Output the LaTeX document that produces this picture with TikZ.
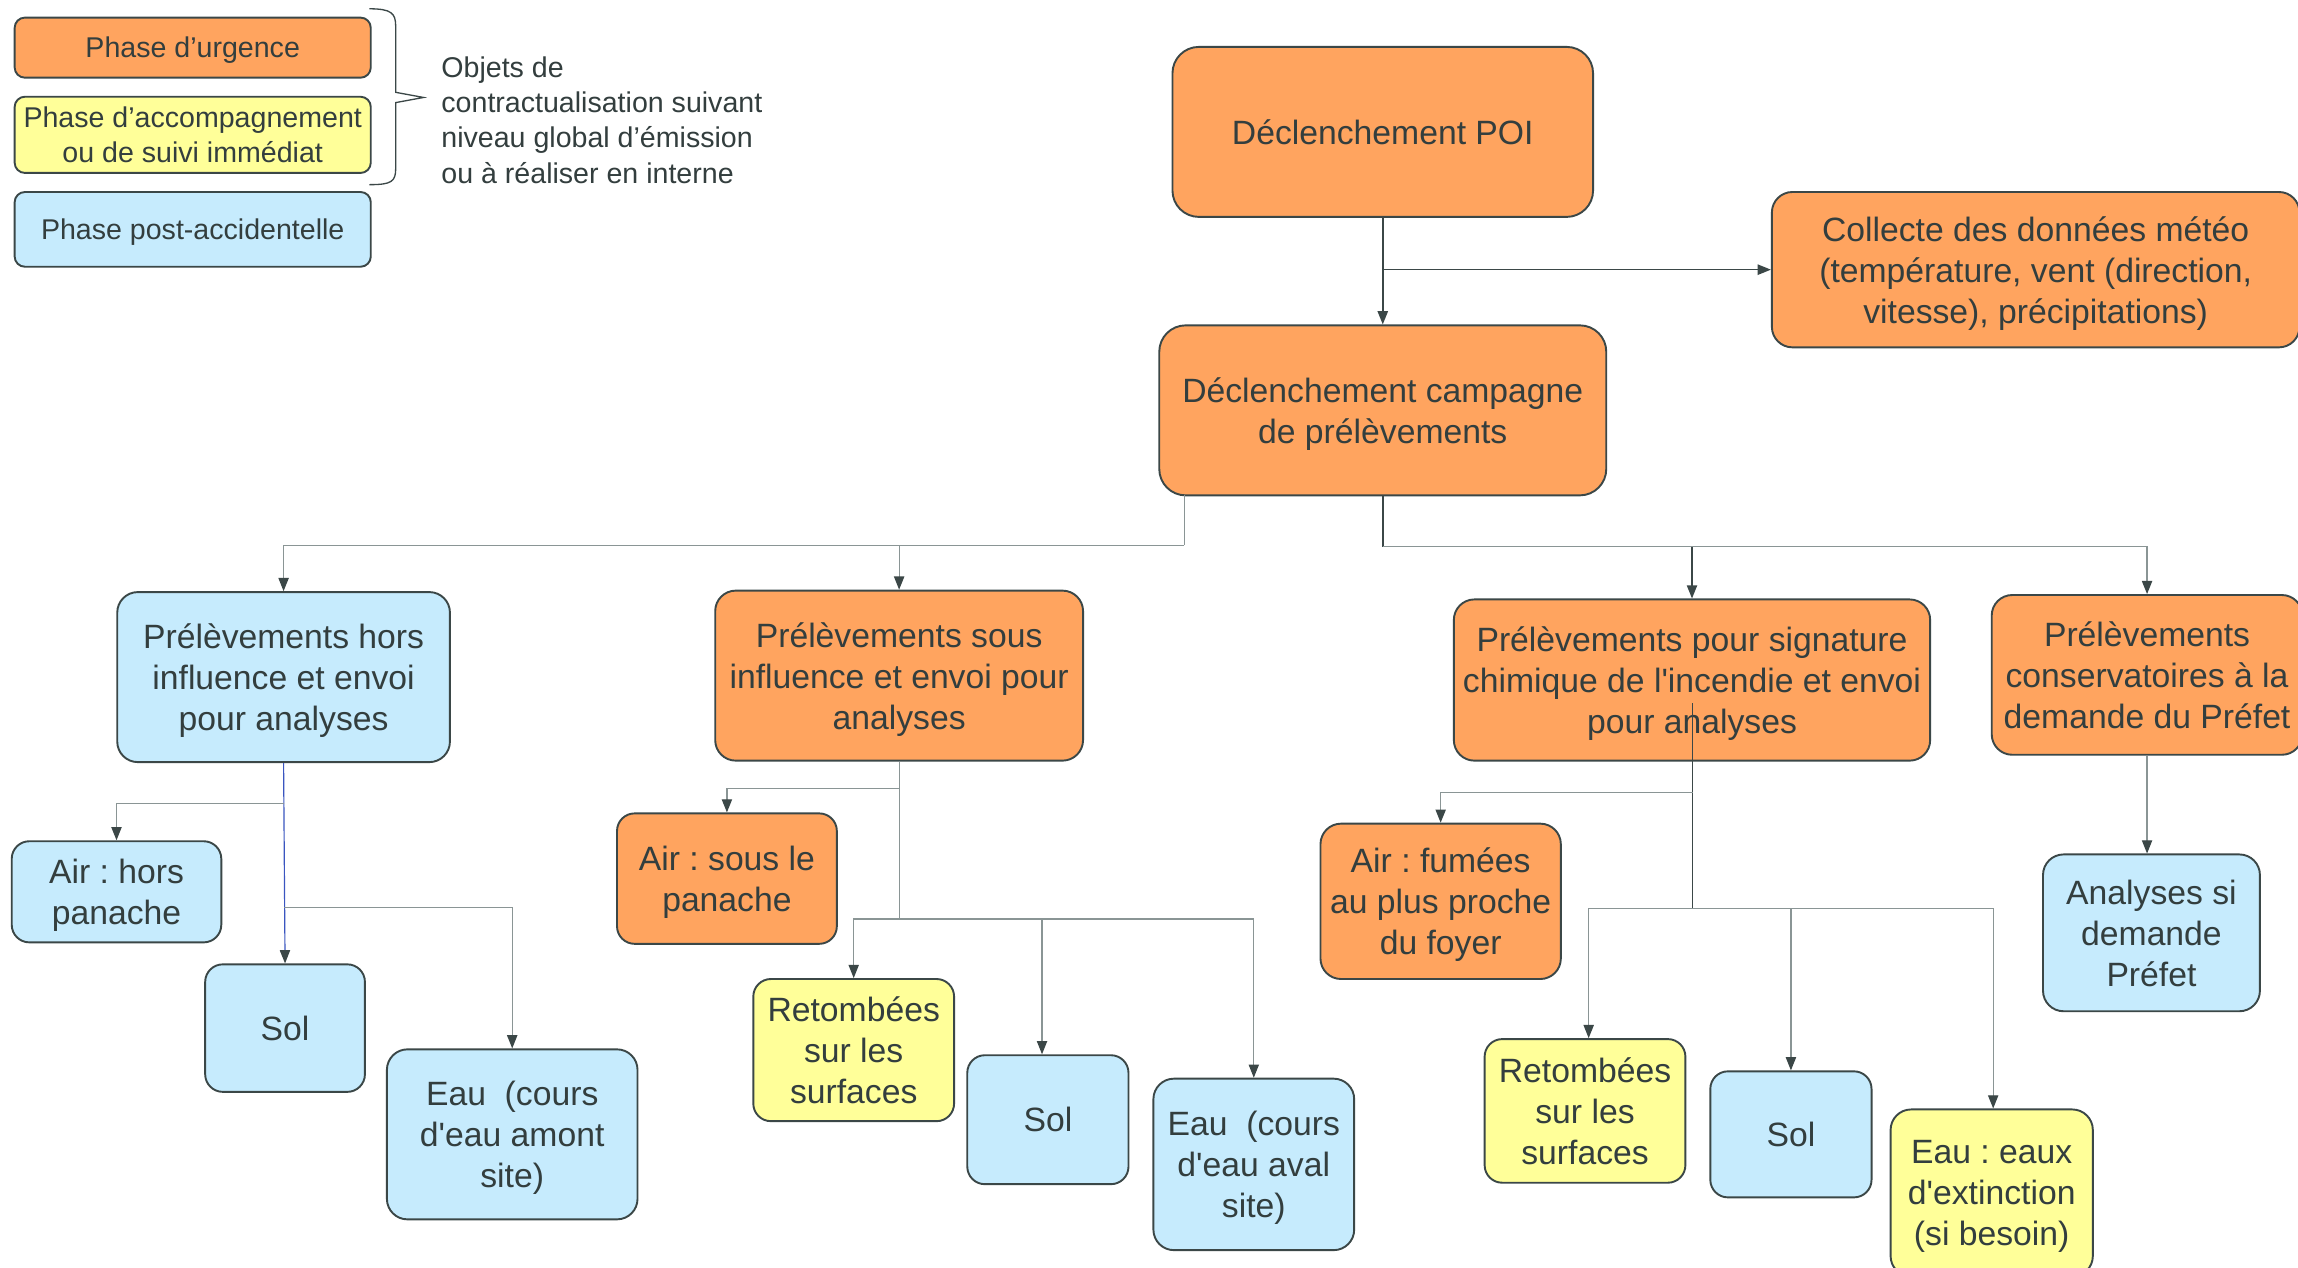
\documentclass[tikz,border=0pt]{standalone}
\usepackage{fontspec}
\setmainfont{Liberation Sans}[Ligatures=TeXOff]
\usetikzlibrary{arrows.meta}
\definecolor{orangebox}{HTML}{FFA45F}
\definecolor{yellowbox}{HTML}{FFFF99}
\definecolor{bluebox}{HTML}{C6EBFD}
\definecolor{bord}{HTML}{3B4747}
\definecolor{txt}{HTML}{333E3E}
\definecolor{lineg}{HTML}{8A9595}
\definecolor{lineblue}{HTML}{3A55C0}
\frenchspacing
\begin{document}
\frenchspacing
\begin{tikzpicture}[x=1pt,y=-1pt,
  box/.style={draw=bord, line width=1.3pt, rounded corners=14pt, align=center, inner sep=0pt,
    text=txt, text depth=0pt, font=\fontsize{23}{28}\selectfont\frenchspacing},
  legbox/.style={box, rounded corners=7pt, font=\fontsize{19.5}{24}\selectfont\frenchspacing},
  orb/.style={fill=orangebox}, yeb/.style={fill=yellowbox}, blb/.style={fill=bluebox},
  link/.style={draw=lineg, line width=0.8pt},
  darklink/.style={draw=bord, line width=1pt},
  arr/.style={-{Triangle[length=9pt,width=7pt,color=bord]}}]
\useasboundingbox (0,0) rectangle (1568,865);
\clip (0,0) rectangle (1568,865);
\fill[white] (0,0) rectangle (1568,865);

% legend
\node[legbox, orb, minimum width=243, minimum height=41] (l1) at (131.5,32.5) {Phase d’urgence};
\node[legbox, yeb, minimum width=243, minimum height=52] (l2) at (131.5,92) {Phase d’accompagnement\\ou de suivi immédiat};
\node[legbox, blb, minimum width=243, minimum height=51] (l3) at (131.5,156.5) {Phase post-accidentelle};
\draw[draw=bord, line width=0.9pt] (252,6) .. controls (267,6) and (270,9) .. (270,18) -- (270,63) -- (289,66.5) -- (270,70) -- (270,115) .. controls (270,124) and (267,126) .. (252,126);
\node[anchor=west, align=left, inner sep=0pt, text=txt, font=\fontsize{19.5}{24}\selectfont\frenchspacing] (obj) at (301,82)
  {Objets de\\contractualisation suivant\\niveau global d’émission\\ou à réaliser en interne};

% top
\node[box, orb, minimum width=287, minimum height=116, rounded corners=18pt] (poi) at (943.5,90) {Déclenchement POI};
\node[box, orb, minimum width=360, minimum height=106] (meteo) at (1389,184) {Collecte des données météo\\(température, vent (direction,\\vitesse), précipitations)};
\node[box, orb, minimum width=305, minimum height=116, rounded corners=18pt] (camp) at (943.5,280) {Déclenchement campagne\\de prélèvements};

% level 2
\node[box, blb, minimum width=227, minimum height=116] (hors) at (193.5,462) {Prélèvements hors\\influence et envoi\\pour analyses};
\node[box, orb, minimum width=251, minimum height=116] (sous) at (613.5,461) {Prélèvements sous\\influence et envoi pour\\analyses};
\node[box, orb, minimum width=325, minimum height=110] (sig) at (1154.5,464) {Prélèvements pour signature\\chimique de l'incendie et envoi\\pour analyses};
\node[box, orb, minimum width=212, minimum height=109] (cons) at (1465,460.5) {Prélèvements\\conservatoires à la\\demande du Préfet};

% level 3
\node[box, blb, minimum width=143, minimum height=69, rounded corners=12pt] (air1) at (79.5,608.5) {Air : hors\\panache};
\node[box, blb, minimum width=109, minimum height=87, rounded corners=12pt] (sol1) at (194.5,701.5) {Sol};
\node[box, blb, minimum width=171, minimum height=116] (eau1) at (349.5,774) {Eau~~(cours\\d'eau amont\\site)};
\node[box, orb, minimum width=150, minimum height=89, rounded corners=12pt] (air2) at (496,599.5) {Air : sous le\\panache};
\node[box, yeb, minimum width=137, minimum height=97, rounded corners=12pt] (ret1) at (582.5,716.5) {Retombées\\sur les\\surfaces};
\node[box, blb, minimum width=110, minimum height=88, rounded corners=12pt] (sol2) at (715,764) {Sol};
\node[box, blb, minimum width=137, minimum height=117] (eau2) at (855.5,794.5) {Eau~~(cours\\d'eau aval\\site)};
\node[box, orb, minimum width=164, minimum height=106] (air3) at (983,615) {Air : fumées\\au plus proche\\du foyer};
\node[box, yeb, minimum width=137, minimum height=98, rounded corners=12pt] (ret2) at (1081.5,758) {Retombées\\sur les\\surfaces};
\node[box, blb, minimum width=110, minimum height=86, rounded corners=12pt] (sol3) at (1222,774) {Sol};
\node[box, yeb, minimum width=138, minimum height=114] (eau3) at (1359,814) {Eau : eaux\\d'extinction\\(si besoin)};
\node[box, blb, minimum width=148, minimum height=107] (ana) at (1468,636.5) {Analyses si\\demande\\Préfet};

% connectors top
\draw[darklink, arr] (poi.south) -- (camp.north);
\coordinate (j1) at (poi.south |- meteo.west);
\draw[darklink, arr] (j1) -- (meteo.west);

\coordinate (cL) at (808,338);
\coordinate (busL) at (808,372);
\draw[link] (cL) -- (busL);
\draw[link, arr] (busL) -| (hors.north);
\draw[link, arr] (busL) -| (sous.north);

\coordinate (busR) at (camp.south |- 0,373);
\draw[darklink] (camp.south) -- (busR);
\draw[darklink, arr] (busR) -| (sig.north);
\draw[link, arr] (busR) -| (cons.north);

% hors children
\coordinate (h1) at (194,548);
\coordinate (h2) at (194,619);
\draw[draw=lineblue, line width=0.8pt, arr] (hors.south) -- (sol1.north);
\draw[link, arr] (h1) -| (air1.north);
\draw[link, arr] (h2) -| (eau1.north);

% sous children
\coordinate (s1) at (sous.south |- 0,538);
\coordinate (s2) at (sous.south |- 0,627);
\draw[link] (sous.south) -- (s2);
\draw[link, arr] (s1) -| (air2.north);
\draw[link, arr] (s2) -| (ret1.north);
\draw[link, arr] (s2) -| ([xshift=-4pt]sol2.north);
\draw[link, arr] (s2) -| (eau2.north);

% signature children
\coordinate (gIn) at (1155,480);
\coordinate (g1) at (1155,541);
\coordinate (g2) at (1155,620);
\draw[darklink] (gIn) -- (g2);
\draw[link, arr] (g1) -| (air3.north);
\draw[link, arr] (g2) -| ([xshift=2.5pt]ret2.north);
\draw[link, arr] (g2) -| (sol3.north);
\draw[link, arr] (g2) -| ([xshift=1pt]eau3.north);

% conservatoires
\draw[link, arr] (cons.south) -- (cons.south |- ana.north);
\end{tikzpicture}
\end{document}
